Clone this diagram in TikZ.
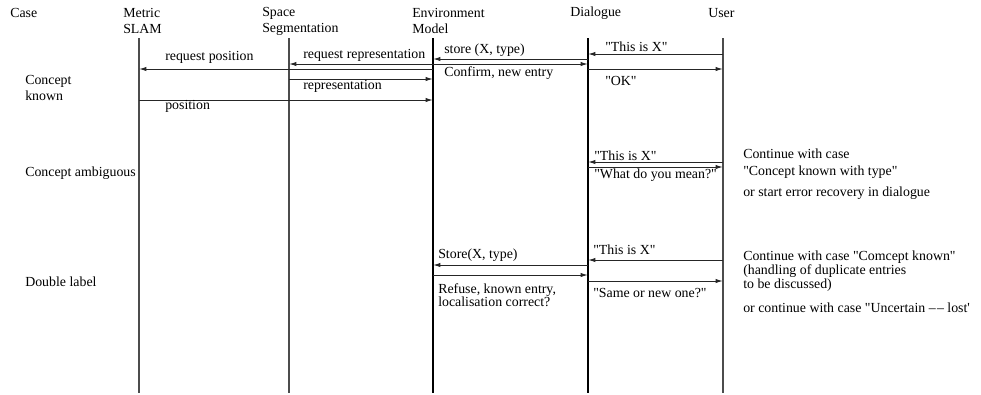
\documentclass[tikz,border=0pt]{standalone}
\usepackage{fontspec}
\setmainfont{Liberation Serif}[Ligatures=TeXOff]
\usetikzlibrary{arrows.meta}
\begin{document}
\begin{tikzpicture}[x=0.75pt,y=-0.75pt,
  txt/.style={anchor=west,inner sep=0pt,align=left,font=\fontsize{10.4}{12}\selectfont},
  life/.style={line width=0.8pt,black!70},
  lifek/.style={line width=0.8pt,black},
  msg/.style={line width=0.75pt,black!85,-{Latex[length=5.5pt,width=3.2pt]}}]
\useasboundingbox (0,0) rectangle (981,394);
% headers
\node[txt] (hcase) at (10,13) {Case};
\node[txt] (hms) at (123,21) {Metric\\SLAM};
\node[txt] (hss) at (262,21) {Space\\Segmentation};
\node[txt] (hem) at (412,21) {Environment\\Model};
\node[txt] (hdl) at (570,13) {Dialogue};
\node[txt] (hus) at (708,13) {User};
% lifelines
\coordinate (ms) at (139,38);
\coordinate (ss) at (289,38);
\coordinate (em) at (433,38);
\coordinate (dl) at (588,38);
\coordinate (us) at (723,38);
\coordinate (msb) at (139,393);
\coordinate (ssb) at (289,393);
\coordinate (emb) at (433,393);
\coordinate (dlb) at (588,393);
\coordinate (usb) at (723,393);
\draw[life] (ms) -- (msb);
\draw[life] (ss) -- (ssb);
\draw[lifek] (em) -- (emb);
\draw[lifek] (dl) -- (dlb);
\draw[life] (us) -- (usb);
% case labels
\node[txt,font=\fontsize{10.4}{11.3}\selectfont] (c1) at (25,88) {Concept\\known};
\node[txt] (c2) at (25,173) {Concept ambiguous};
\node[txt] (c3) at (25,282) {Double label};
% case 1: concept known
\draw[msg] (us |- 0,54) -- (dl |- 0,54);
\draw[msg] (dl |- 0,59) -- (em |- 0,59);
\draw[msg] (em |- 0,64) -- (ss |- 0,64);
\draw[msg] (em |- 0,64) -- (dl |- 0,64);
\draw[msg] (em |- 0,69) -- (ms |- 0,69);
\draw[msg] (dl |- 0,69) -- (us |- 0,69);
\draw[msg] (ss |- 0,79) -- (em |- 0,79);
\draw[msg] (ms |- 0,100) -- (em |- 0,100);
\node[txt] (l1) at (605,47) {"This is X"};
\node[txt] (l2) at (444,50) {store (X, type)};
\node[txt] (l3) at (303,55) {request representation};
\node[txt] (l4) at (165,57) {request position};
\node[txt] (l5) at (444,73) {Confirm, new entry};
\node[txt] (l6) at (605,81) {"OK"};
\node[txt] (l7) at (303,86) {representation};
\node[txt] (l8) at (165,106) {position};
% case 2: concept ambiguous
\draw[msg] (us |- 0,162) -- (dl |- 0,162);
\draw[msg] (dl |- 0,167) -- (us |- 0,167);
\node[txt] (m1) at (594,156) {"This is X"};
\node[txt] (m2) at (594,175) {"What do you mean?"};
\node[txt,font=\fontsize{10.4}{12.5}\selectfont] (m3) at (743,163.5) {Continue with case\\"Concept known with type"};
\node[txt] (m4) at (743,193) {or start error recovery in dialogue};
% case 3: double label
\draw[msg] (us |- 0,260) -- (dl |- 0,260);
\draw[msg] (dl |- 0,265) -- (em |- 0,265);
\draw[msg] (em |- 0,275) -- (dl |- 0,275);
\draw[msg] (dl |- 0,281) -- (us |- 0,281);
\node[txt] (d1) at (593,250) {"This is X"};
\node[txt] (d2) at (438,255) {Store(X, type)};
\node[txt,font=\fontsize{10.4}{9.8}\selectfont] (d3) at (438,295.5) {Refuse, known entry,\\localisation correct?};
\node[txt] (d4) at (593,293) {"Same or new one?"};
\node[txt,font=\fontsize{10.4}{7.9}\selectfont] (d5) at (743,271.5) {Continue with case "Comcept known"\\(handling of duplicate entries\\to be discussed)};
\node[txt] (d6) at (743,308) {or continue with case "Uncertain –\kern1pt– lost'};
\end{tikzpicture}
\end{document}
